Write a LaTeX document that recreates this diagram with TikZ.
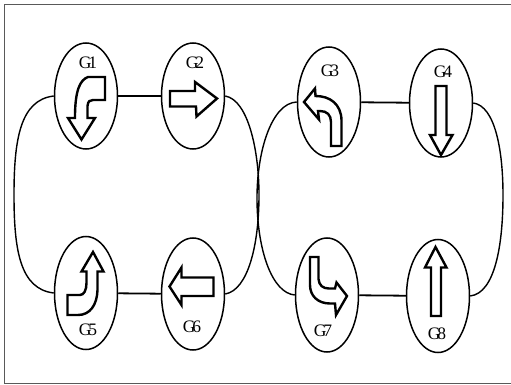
\documentclass[tikz,border=0pt]{standalone}
\usepackage{fontspec}
\setmainfont{Liberation Serif}
\usetikzlibrary{shapes.geometric}
\begin{document}
\begin{tikzpicture}[x=1pt,y=-1pt,
  gnode/.style={draw, ellipse, line width=1.5pt, minimum width=63pt, minimum height=106pt, inner sep=0pt},
  glabel/.style={font=\fontsize{17.5}{17.5}\selectfont, inner sep=0pt},
  link/.style={line width=1.8pt},
  loopline/.style={line width=1.4pt},
  blockarrow/.style={line width=2.4pt, line join=miter},
  framestyle/.style={draw=black!65, line width=1pt}]
\useasboundingbox (0,0) rectangle (511,385);
\draw[framestyle] (511,5) -- (4,5) -- (4,383) -- (511,383);

\node[gnode] (g1) at (86,96) {};
\node[gnode] (g2) at (193,96) {};
\node[gnode, minimum height=110pt] (g3) at (329,102) {};
\node[gnode, minimum height=108pt] (g4) at (441,103) {};
\node[gnode, minimum height=113pt] (g5) at (86,293) {};
\node[gnode, minimum height=112pt] (g6) at (193,294) {};
\node[gnode, minimum height=114pt] (g7) at (327,295) {};
\node[gnode, minimum height=113pt] (g8) at (438,296) {};

\node[glabel] (l1) at (88,63) {G\kern-3pt 1};
\node[glabel] (l2) at (195,63) {G\kern-3pt 2};
\node[glabel] (l3) at (330,71) {G\kern-3pt 3};
\node[glabel] (l4) at (443,72) {G\kern-3pt 4};
\node[glabel] (l5) at (88,330) {G\kern-3pt 5};
\node[glabel] (l6) at (192,327) {G\kern-3pt 6};
\node[glabel] (l7) at (323,331) {G\kern-3pt 7};
\node[glabel] (l8) at (437,334) {G\kern-3pt 8};

\draw[link] (g1) -- (g2);
\draw[link] (g3) -- (g4);
\draw[link] (g5) -- (g6);
\draw[link] (g7) -- (g8);

\draw[loopline] (g1.west) .. controls (20,100) and (14,140) .. (14,195) .. controls (14,250) and (20,289) .. (g5.west);
\draw[loopline] (g2.east) .. controls (248,100) and (259,150) .. (259,195) .. controls (259,245) and (248,290) .. (g6.east);
\draw[loopline] (g3.west) .. controls (272,103) and (257,150) .. (257,198) .. controls (257,250) and (272,293) .. (g7.west);
\draw[loopline] (g4.east) .. controls (495,106) and (503,150) .. (503,195) .. controls (503,245) and (495,293) .. (g8.east);

% G1 arrow
\draw[blockarrow] (105,77) -- (88,77) .. controls (80,80) and (75.5,90) .. (75,114) -- (75,118) -- (68,118) -- (81.5,139.5) -- (95,118) -- (87.5,118) -- (87.5,106) .. controls (88,101) and (90,100) .. (93,100) -- (105,100) -- cycle;
% G2 arrow
\draw[blockarrow] (170,91) -- (195,91) -- (195,82) -- (217,98.5) -- (196.5,116.5) -- (196,106.5) -- (170,106.5) -- cycle;
% G3 arrow
\draw[blockarrow] (304,102) -- (315,88.5) -- (315.5,96) .. controls (330,96) and (341,104) .. (341.5,120) -- (341.5,146) -- (331,146) -- (331,122) .. controls (331,115) and (327,111) .. (320,111) -- (318,111) -- (319,119.5) -- cycle;
% G4 arrow
\draw[blockarrow] (435.5,86) -- (446.5,86) -- (446.5,135) -- (452.5,135) -- (441,155) -- (430,135) -- (435.5,135) -- cycle;
% G5 arrow
\draw[blockarrow] (93,252) -- (103.5,271.5) -- (97.5,271.5) -- (97.5,290) .. controls (97,305) and (90,315) .. (78,315) -- (67.5,315) -- (67.5,295) -- (80,295) .. controls (84,295) and (86.5,290) .. (86.5,283) -- (86.5,271.5) -- (81.5,271.5) -- cycle;
% G6 arrow
\draw[blockarrow] (213.5,277.5) -- (181.5,277.5) -- (181.5,267.5) -- (169.5,286.5) -- (181.5,305) -- (181.5,296) -- (213.5,296) -- cycle;
% G7 arrow
\draw[blockarrow] (310,257) -- (318.5,257) -- (318.5,279) .. controls (319,285.5) and (323,288.5) .. (329,288.5) -- (335,288.5) -- (336.5,282.5) -- (347,296) -- (336,315) -- (335,303.5) -- (330,303.5) .. controls (318,303.5) and (310,296) .. (310,285) -- cycle;
% G8 arrow
\draw[blockarrow] (431,316) -- (431,267.5) -- (425,267.5) -- (435.5,247) -- (446.5,267.5) -- (441,267.5) -- (441,316) -- cycle;
\end{tikzpicture}
\end{document}
